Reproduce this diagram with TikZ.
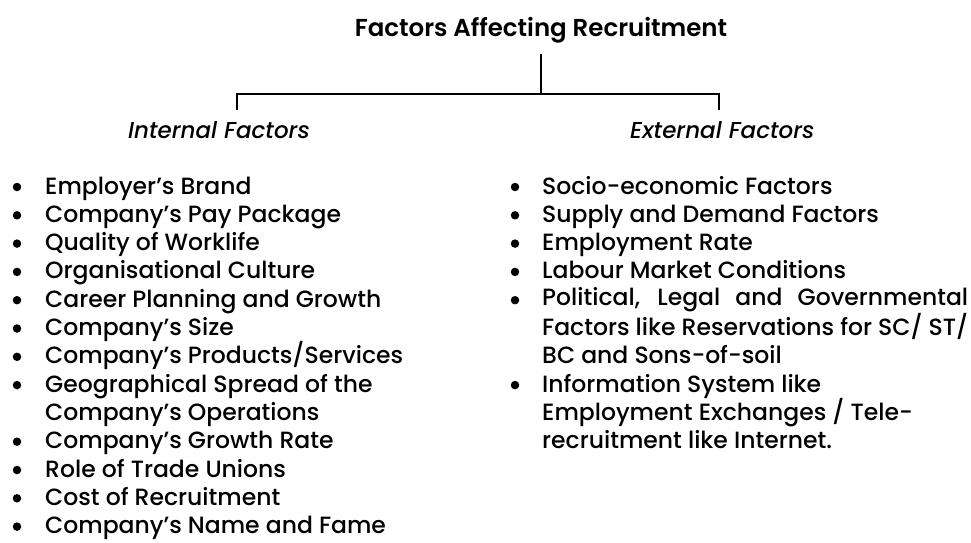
\documentclass[tikz,border=0pt]{standalone}
\usepackage{fontspec}
\IfFontExistsTF{Poppins Medium}
  {\IfFontExistsTF{Poppins Medium Italic}
     {\setmainfont{Poppins Medium}[ItalicFont={Poppins Medium Italic}]}
     {\setmainfont{Poppins}}}
  {\setmainfont{Poppins}}
\IfFontExistsTF{Poppins SemiBold}
  {\newfontfamily\headfont{Poppins SemiBold}}
  {\newcommand\headfont{\bfseries}}
% a line stretched to the full width of the right-hand column
\newcommand\fullline[1]{\makebox[426pt][s]{#1}}

\begin{document}
\begin{tikzpicture}[x=1pt,y=-1pt,
  conn/.style={line width=1.4pt},
  heading/.style={font=\headfont\fontsize{24.5}{28}\selectfont, inner sep=0pt, anchor=base},
  side/.style={font=\itshape\fontsize{23}{28}\selectfont, inner sep=0pt},
  entry/.style={font=\fontsize{23.5}{28.3}\selectfont, align=left, inner sep=0pt, anchor=base west},
  dot/.style={circle, fill, inner sep=0pt, minimum size=8.5pt}]
\useasboundingbox (0,0) rectangle (971,543);

% heading and the bracket that splits it in two
\node[heading] (title) at (541,36.5) {Factors Affecting Recruitment};
\coordinate (split) at (541,94);
\coordinate (lfoot) at (237,110);
\coordinate (rfoot) at (719,110);
\draw[conn, shorten <=11pt] (title.south) -- (split);
\draw[conn] (lfoot) |- (split) -| (rfoot);

\node[side, anchor=base east] (internal) at (310,138) {Internal Factors};
\node[side, anchor=base west] (external) at (630,138) {External Factors};

% internal factors (multi-line entries sit on their last baseline)
\node[dot] (ib1) at (17,187) {};
\node[entry] (i1) at (45,194) {Employer’s Brand};
\node[dot] (ib2) at (17,215.3) {};
\node[entry] (i2) at (45,222.3) {Company’s Pay Package};
\node[dot] (ib3) at (17,243.6) {};
\node[entry] (i3) at (45,250.6) {Quality of Worklife};
\node[dot] (ib4) at (17,271.9) {};
\node[entry] (i4) at (45,278.9) {Organisational Culture};
\node[dot] (ib5) at (17,300.2) {};
\node[entry] (i5) at (45,307.2) {Career Planning and Growth};
\node[dot] (ib6) at (17,328.5) {};
\node[entry] (i6) at (45,335.5) {Company’s Size};
\node[dot] (ib7) at (17,356.8) {};
\node[entry] (i7) at (45,363.8) {Company’s Products/Services};
\node[dot] (ib8) at (17,385.1) {};
\node[entry] (i8) at (45,420.4) {Geographical Spread of the\\Company’s Operations};
\node[dot] (ib9) at (17,441.7) {};
\node[entry] (i9) at (45,448.7) {Company’s Growth Rate};
\node[dot] (ib10) at (17,470) {};
\node[entry] (i10) at (45,477) {Role of Trade Unions};
\node[dot] (ib11) at (17,498.3) {};
\node[entry] (i11) at (45,505.3) {Cost of Recruitment};
\node[dot] (ib12) at (17,526.6) {};
\node[entry] (i12) at (45,533.6) {Company’s Name and Fame};

% external factors
\node[dot] (eb1) at (515,187) {};
\node[entry] (e1) at (542,194) {Socio-economic Factors};
\node[dot] (eb2) at (515,215.3) {};
\node[entry] (e2) at (542,222.3) {Supply and Demand Factors};
\node[dot] (eb3) at (515,243.6) {};
\node[entry] (e3) at (542,250.6) {Employment Rate};
\node[dot] (eb4) at (515,271.9) {};
\node[entry] (e4) at (542,278.9) {Labour Market Conditions};
\node[dot] (eb5) at (515,300.2) {};
\node[entry] (e5) at (542,363.8) {\fullline{Political, Legal and Governmental}\\\fullline{Factors like Reservations for SC/ ST/}\\BC and Sons-of-soil};
\node[dot] (eb6) at (515,385.1) {};
\node[entry] (e6) at (542,448.7) {Information System like\\Employment Exchanges / Tele-\\recruitment like Internet.};
\end{tikzpicture}
\end{document}
